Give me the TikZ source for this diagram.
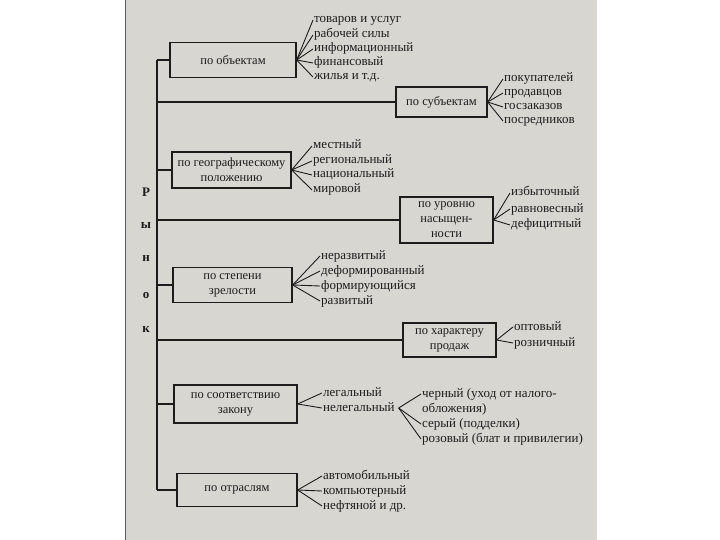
\documentclass[tikz,border=0pt]{standalone}
\usepackage{fontspec}
\setmainfont{Liberation Serif}
\definecolor{pagegray}{HTML}{D8D6D0}
\definecolor{ink}{HTML}{1C1C1C}
\begin{document}
\begin{tikzpicture}[x=1pt,y=-1pt,
  catbox/.style={draw=ink,line width=1.3pt,fill=pagegray,align=center,font=\fontsize{12.5}{15}\selectfont,text=ink,inner sep=1pt},
  item/.style={anchor=west,font=\fontsize{13}{14}\selectfont,text=ink,inner sep=1pt,text height=8.5pt,text depth=2.5pt},
  fan/.style={draw=ink,line width=0.9pt},
  trunk/.style={draw=ink,line width=1.3pt},
  letter/.style={font=\bfseries\fontsize{13}{14}\selectfont,text=ink}]
\useasboundingbox (0,0) rectangle (720,540);
\fill[white] (0,0) rectangle (720,540);
\fill[pagegray] (125,0) rectangle (597,540);
\draw[gray!70!black,line width=0.6pt] (125,0) -- (125,540);

% category boxes
\node[catbox,minimum width=126pt,minimum height=35pt] (b1) at (233,60) {по объектам};
\node[catbox,minimum width=91pt,minimum height=30pt] (b2) at (441.5,102) {по субъектам};
\node[catbox,minimum width=119pt,minimum height=36pt] (b3) at (231.5,170) {по географическому\\положению};
\node[catbox,minimum width=93pt,minimum height=46pt] (b4) at (446.5,220) {по уровню\\насыщен-\\ности};
\node[catbox,minimum width=119pt,minimum height=35pt] (b5) at (232.5,285) {по степени\\зрелости};
\node[catbox,minimum width=93pt,minimum height=34pt] (b6) at (449.5,340) {по характеру\\продаж};
\node[catbox,minimum width=123pt,minimum height=38pt] (b7) at (235.5,404) {по соответствию\\закону};
\node[catbox,minimum width=120pt,minimum height=33pt] (b8) at (237,490) {по отраслям};

% trunk
\coordinate (t1) at (157,60);
\coordinate (t8) at (157,490);
\draw[trunk] (t1) -- (t8);
\foreach \b in {b1,b2,b3,b4,b5,b6,b7,b8}{
  \draw[trunk] (t1 |- \b.west) -- (\b.west);
}

% letters
\node[letter] (L1) at (146,192) {Р};
\node[letter] (L2) at (146,226) {ы};
\node[letter] (L3) at (146,259) {н};
\node[letter] (L4) at (146,295) {о};
\node[letter] (L5) at (146,330) {к};

% items b1
\node[item] (i11) at (313,20) {товаров и услуг};
\node[item] (i12) at (313,35) {рабочей силы};
\node[item] (i13) at (313,49) {информационный};
\node[item] (i14) at (313,63) {финансовый};
\node[item] (i15) at (313,77) {жилья и т.д.};
\foreach \i in {i11,i12,i13,i14,i15}{\draw[fan] (b1.east) -- (\i.west);}

% items b2
\node[item] (i21) at (503,79) {покупателей};
\node[item] (i22) at (503,93) {продавцов};
\node[item] (i23) at (503,107) {госзаказов};
\node[item] (i24) at (503,121) {посредников};
\foreach \i in {i21,i22,i23,i24}{\draw[fan] (b2.east) -- (\i.west);}

% items b3
\node[item] (i31) at (312,146) {местный};
\node[item] (i32) at (312,161) {региональный};
\node[item] (i33) at (312,175) {национальный};
\node[item] (i34) at (312,190) {мировой};
\foreach \i in {i31,i32,i33,i34}{\draw[fan] (b3.east) -- (\i.west);}

% items b4
\node[item] (i41) at (510,193) {избыточный};
\node[item] (i42) at (510,209) {равновесный};
\node[item] (i43) at (510,225) {дефицитный};
\foreach \i in {i41,i42,i43}{\draw[fan] (b4.east) -- (\i.west);}

% items b5
\node[item] (i51) at (320,256) {неразвитый};
\node[item] (i52) at (320,271) {деформированный};
\node[item] (i53) at (320,286) {формирующийся};
\node[item] (i54) at (320,301) {развитый};
\foreach \i in {i51,i52,i53,i54}{\draw[fan] (b5.east) -- (\i.west);}

% items b6
\node[item] (i61) at (513,327) {оптовый};
\node[item] (i62) at (513,343) {розничный};
\foreach \i in {i61,i62}{\draw[fan] (b6.east) -- (\i.west);}

% items b7
\node[item] (i71) at (322,393) {легальный};
\node[item] (i72) at (322,408) {нелегальный};
\foreach \i in {i71,i72}{\draw[fan] (b7.east) -- (\i.west);}
\node[item] (i81) at (421,394) {черный (уход от налого-};
\node[item] (i82) at (421,409) {обложения)};
\node[item] (i83) at (421,424) {серый (подделки)};
\node[item] (i84) at (421,439) {розовый (блат и привилегии)};
\coordinate (nel) at ([xshift=3pt]i72.east);
\foreach \i in {i81,i83,i84}{\draw[fan] (nel) -- (\i.west);}

% items b8
\node[item] (i91) at (322,476) {автомобильный};
\node[item] (i92) at (322,491) {компьютерный};
\node[item] (i93) at (322,506) {нефтяной и др.};
\foreach \i in {i91,i92,i93}{\draw[fan] (b8.east) -- (\i.west);}
\end{tikzpicture}
\end{document}
